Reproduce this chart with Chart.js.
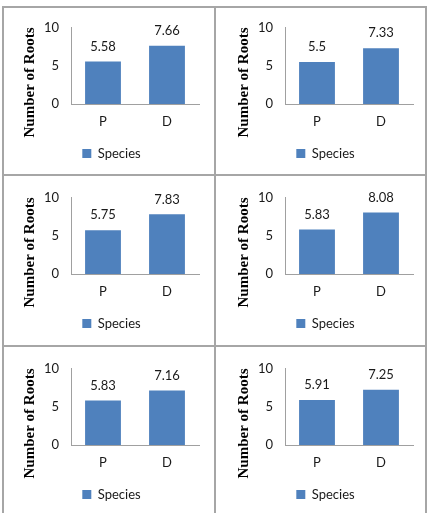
<!DOCTYPE html>
<html>
<head>
<meta charset="utf-8">
<script src="https://cdn.jsdelivr.net/npm/chart.js@4.4.0/dist/chart.umd.min.js"></script>
<style>
  body { margin: 0; background: #fff; width: 428px; height: 513px; overflow: hidden; position: relative; }
  .rule { position: absolute; background: #a6a6a6; }
  canvas.panel { position: absolute; }
</style>
</head>
<body>
<!-- table borders -->
<div class="rule" style="left:2px;top:6px;width:425px;height:2px"></div>
<div class="rule" style="left:2px;top:174px;width:425px;height:2px"></div>
<div class="rule" style="left:2px;top:345px;width:425px;height:2px"></div>
<div class="rule" style="left:2px;top:6px;width:2px;height:507px"></div>
<div class="rule" style="left:214px;top:6px;width:2px;height:507px"></div>
<div class="rule" style="left:425px;top:6px;width:2px;height:507px"></div>

<script>
// datos de cada panel
const species = ['P', 'D'];
const yTicks = [0, 5, 10];
const roots1 = [5.58, 7.66];
const roots2 = [5.5, 7.33];
const roots3 = [5.75, 7.83];
const roots4 = [5.83, 8.08];
const roots5 = [5.83, 7.16];
const roots6 = [5.91, 7.25];
const panels = [roots1, roots2, roots3, roots4, roots5, roots6];

const barColor = '#4f81bd';
const axisColor = '#a0a0a0';
const textColor = '#1a1a1a';

// etiquetas de valor encima de cada barra
const valueLabels = {
    id: 'valueLabels',
    afterDatasetsDraw(chart) {
        const ctx = chart.ctx;
        const meta = chart.getDatasetMeta(0);
        ctx.save();
        ctx.font = '13px Lato';
        ctx.fillStyle = textColor;
        ctx.textAlign = 'center';
        ctx.textBaseline = 'middle';
        meta.data.forEach((bar, i) => {
            ctx.fillText(String(chart.data.datasets[0].data[i]), bar.x, bar.y - 15);
        });
        ctx.restore();
    }
};

// titulo del eje Y (Excel lo centra mas abajo que el area del grafico)
const yTitle = {
    id: 'yTitle',
    afterDraw(chart) {
        const ctx = chart.ctx;
        ctx.save();
        ctx.translate(26, 74.5);
        ctx.rotate(-Math.PI / 2);
        ctx.font = 'bold 15px "Liberation Serif"';
        ctx.fillStyle = '#000';
        ctx.textAlign = 'center';
        ctx.textBaseline = 'middle';
        ctx.fillText('Number of Roots', 0, 0);
        ctx.restore();
    }
};

panels.forEach((values, idx) => {
    const col = idx % 2;
    const row = Math.floor(idx / 2);
    const canvas = document.createElement('canvas');
    canvas.className = 'panel';
    canvas.width = 210;
    canvas.height = 168;
    canvas.style.left = (4 + col * 214) + 'px';
    canvas.style.top = (8 + [0, 170, 341][row]) + 'px';
    document.body.appendChild(canvas);

    new Chart(canvas, {
        type: 'bar',
        data: {
            labels: species,
            datasets: [{
                label: 'Species',
                data: values,
                backgroundColor: barColor,
                borderWidth: 0,
                barPercentage: 0.56,
                categoryPercentage: 1
            }]
        },
        options: {
            responsive: false,
            animation: false,
            layout: { padding: { top: 11, right: 15, left: 20, bottom: 6 } },
            scales: {
                x: {
                    grid: { display: false, drawTicks: false },
                    border: { color: axisColor, width: 1 },
                    ticks: { color: textColor, font: { family: 'Lato', size: 13 }, padding: 10 },
                    afterFit: (scale) => { scale.height = 33; }
                },
                y: {
                    min: yTicks[0],
                    max: yTicks[yTicks.length - 1],
                    grid: { display: false, drawTicks: false },
                    border: { color: axisColor, width: 1 },
                    ticks: { stepSize: yTicks[1] - yTicks[0], color: textColor, font: { family: 'Lato', size: 13 }, padding: 12 },
                    afterFit: (scale) => { scale.width = 47; }
                }
            },
            plugins: {
                legend: {
                    position: 'bottom',
                    labels: { boxWidth: 9, boxHeight: 9, color: textColor, font: { family: 'Lato', size: 13 }, padding: 10 }
                },
                tooltip: { enabled: false }
            }
        },
        plugins: [valueLabels, yTitle]
    });
});
</script>
</body>
</html>
